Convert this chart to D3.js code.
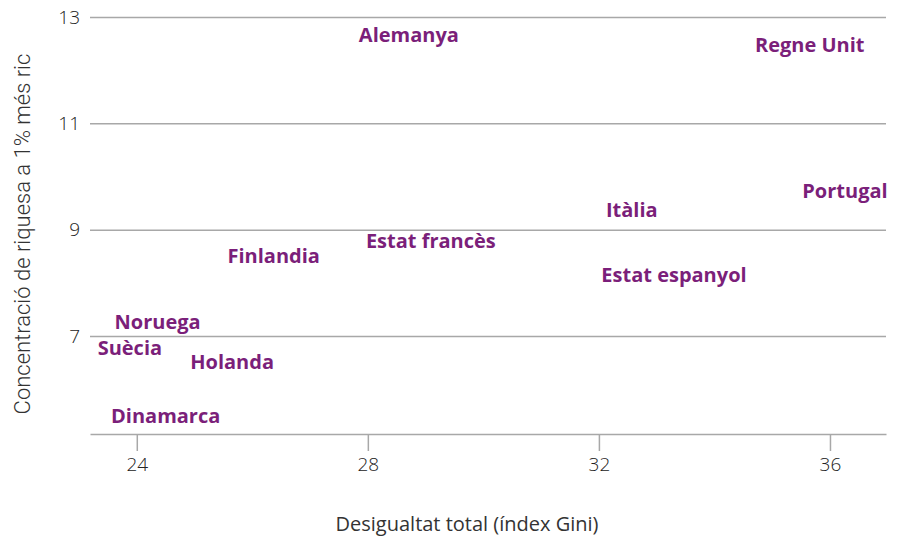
<!DOCTYPE html>
<html>
<head>
<meta charset="utf-8">
<script src="https://cdn.jsdelivr.net/npm/d3@7"></script>
<style>
  body { margin: 0; background: #fff; }
  svg { display: block; }
</style>
</head>
<body>
<div id="chart"></div>
<script>
// dades
var countries = ["Alemanya", "Regne Unit", "Portugal", "Itàlia", "Estat francès", "Finlandia",
                 "Estat espanyol", "Noruega", "Suècia", "Holanda", "Dinamarca"];
var gini = [28.71, 35.65, 36.26, 32.57, 29.09, 26.37, 33.30, 24.36, 23.88, 25.65, 24.50];
var wealth = [12.66, 12.47, 9.73, 9.37, 8.79, 8.50, 8.15, 7.26, 6.77, 6.51, 5.50];
var xTicks = [24, 28, 32, 36];
var yTicks = [7, 9, 11, 13];

var width = 900, height = 538;
var margin = {top: 17, right: 14, bottom: 104, left: 90};

var svg = d3.select("#chart")
    .append("svg")
    .attr("width", width)
    .attr("height", height);

var x = d3.scaleLinear()
    .domain([23.19, 36.97])
    .range([margin.left, width - margin.right]);

var y = d3.scaleLinear()
    .domain([5.157, 13])
    .range([height - margin.bottom, margin.top]);

// línies de la graella
var yAxis = svg.append("g")
    .attr("transform", "translate(" + margin.left + ",0)")
    .call(d3.axisLeft(y)
        .tickValues(yTicks)
        .tickSize(-(width - margin.left - margin.right))
        .tickPadding(10));

yAxis.select(".domain").remove();
yAxis.selectAll(".tick line")
    .attr("stroke", "#a8a8a8")
    .attr("stroke-width", 1.5);
yAxis.selectAll(".tick text")
    .attr("font-family", "'Open Sans', sans-serif")
    .attr("font-weight", 300)
    .attr("font-size", 19)
    .attr("fill", "#222");

var xAxis = svg.append("g")
    .attr("transform", "translate(0," + (height - margin.bottom) + ")")
    .call(d3.axisBottom(x)
        .tickValues(xTicks)
        .tickSize(17)
        .tickSizeOuter(0)
        .tickPadding(7));

xAxis.select(".domain")
    .attr("stroke", "#a8a8a8")
    .attr("stroke-width", 1.5);
xAxis.selectAll(".tick line")
    .attr("stroke", "#a8a8a8")
    .attr("stroke-width", 1.5);
xAxis.selectAll(".tick text")
    .attr("font-family", "'Open Sans', sans-serif")
    .attr("font-weight", 300)
    .attr("font-size", 19)
    .attr("fill", "#222");

// títols dels eixos
svg.append("text")
    .attr("x", 467)
    .attr("y", 531)
    .attr("text-anchor", "middle")
    .attr("font-family", "'Open Sans', sans-serif")
    .attr("font-weight", 400)
    .attr("font-size", 20)
    .attr("fill", "#333")
    .text("Desigualtat total (índex Gini)");

svg.append("text")
    .attr("transform", "translate(30,234) rotate(-90)")
    .attr("text-anchor", "middle")
    .attr("font-family", "Roboto, sans-serif")
    .attr("font-weight", 300)
    .attr("font-size", 22)
    .attr("fill", "#333")
    .text("Concentració de riquesa a 1% més ric");

// etiquetes dels països
svg.append("g")
    .selectAll("text")
    .data(countries)
    .enter()
    .append("text")
    .attr("x", function(d, i) { return x(gini[i]); })
    .attr("y", function(d, i) { return y(wealth[i]); })
    .attr("dy", "0.35em")
    .attr("text-anchor", "middle")
    .attr("font-family", "'Open Sans', sans-serif")
    .attr("font-weight", 700)
    .attr("font-size", 20)
    .attr("fill", "#7b1f7a")
    .text(function(d) { return d; });
</script>
</body>
</html>
